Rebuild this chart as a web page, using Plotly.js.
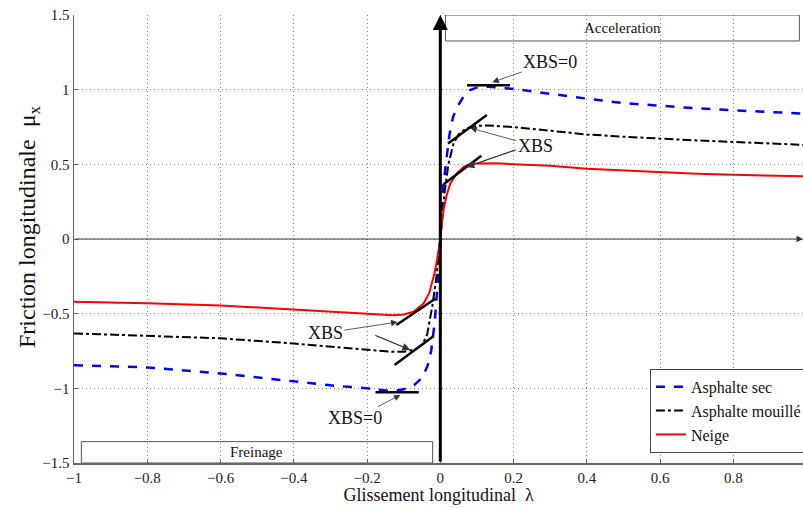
<!DOCTYPE html>
<html>
<head>
<meta charset="utf-8">
<script src="https://cdn.plot.ly/plotly-3.0.1.min.js"></script>
<style>html,body{margin:0;padding:0;background:#fff}#chart{width:803px;height:508px}</style>
</head>
<body>
<div id="chart"></div>
<script>
// ---- data ----
const seriesNames = ['Asphalte sec', 'Asphalte mouillé', 'Neige'];

const xSec = [-1, -0.8, -0.6, -0.4, -0.3, -0.2, -0.15, -0.12, -0.09, -0.07, -0.05, -0.035, -0.025, -0.015, -0.008, -0.003, 0, 0.003, 0.008, 0.015, 0.025, 0.035, 0.05, 0.065, 0.08, 0.1, 0.13, 0.2, 0.3, 0.4, 0.5, 0.6, 0.7, 0.8, 0.9, 0.99];
const ySec = [-0.845, -0.86, -0.9, -0.955, -0.98, -1.0, -1.015, -1.015, -1.0, -0.975, -0.93, -0.85, -0.75, -0.55, -0.35, -0.15, 0, 0.15, 0.35, 0.5, 0.7, 0.82, 0.9, 0.96, 0.995, 1.015, 1.02, 1.005, 0.97, 0.94, 0.91, 0.89, 0.875, 0.862, 0.85, 0.84];

const xMouille = [-1, -0.8, -0.6, -0.4, -0.3, -0.2, -0.13, -0.1, -0.07, -0.05, -0.036, -0.022, -0.012, -0.005, 0, 0.005, 0.012, 0.022, 0.036, 0.05, 0.07, 0.1, 0.13, 0.2, 0.3, 0.4, 0.5, 0.6, 0.7, 0.8, 0.9, 0.99];
const yMouille = [-0.632, -0.648, -0.665, -0.7, -0.72, -0.743, -0.755, -0.755, -0.74, -0.71, -0.64, -0.45, -0.28, -0.12, 0, 0.15, 0.32, 0.5, 0.64, 0.7, 0.74, 0.758, 0.76, 0.75, 0.725, 0.7, 0.685, 0.67, 0.66, 0.65, 0.64, 0.63];

const xNeige = [-1, -0.8, -0.6, -0.4, -0.3, -0.2, -0.13, -0.1, -0.073, -0.045, -0.03, -0.023, -0.015, -0.009, -0.004, 0, 0.004, 0.009, 0.018, 0.027, 0.045, 0.065, 0.082, 0.1, 0.15, 0.2, 0.3, 0.4, 0.5, 0.6, 0.7, 0.8, 0.9, 0.99];
const yNeige = [-0.42, -0.43, -0.445, -0.475, -0.49, -0.5, -0.51, -0.505, -0.487, -0.43, -0.36, -0.3, -0.22, -0.14, -0.07, 0, 0.1, 0.2, 0.3, 0.37, 0.44, 0.485, 0.5, 0.505, 0.507, 0.5, 0.49, 0.47, 0.458, 0.447, 0.437, 0.43, 0.424, 0.42];

const xTickVals = [-1, -0.8, -0.6, -0.4, -0.2, 0, 0.2, 0.4, 0.6, 0.8];
const yTickVals = [-1.5, -1, -0.5, 0, 0.5, 1, 1.5];

const xTitle = 'Glissement longitudinal  λ';
const yTitle = 'Friction longitudinale  μ<sub>x</sub>';

// XBS tangent segments: [x0, y0, x1, y1]
const tangentSegments = [
  [0.073, 1.03, 0.19, 1.03],
  [0.021, 0.64, 0.127, 0.83],
  [0.009, 0.366, 0.112, 0.558],
  [-0.12, -0.576, -0.014, -0.40],
  [-0.125, -0.844, -0.018, -0.65],
  [-0.177, -1.027, -0.059, -1.027]
];
// XBS labels with arrow: [text, textX, textY, headX, headY]
const xbsLabels = [
  ['XBS=0', 0.30, 1.185, 0.142, 1.05],
  ['XBS', 0.259, 0.623, 0.082, 0.743],
  ['XBS', -0.314, -0.63, -0.117, -0.556],
  ['XBS=0', -0.232, -1.2, -0.109, -1.045]
];
// Extra pointer arrows without text: [tailX, tailY, headX, headY]
const extraPointers = [
  [0.207, 0.598, 0.071, 0.482],
  [-0.178, -0.645, -0.082, -0.743]
];
// Region boxes: [text, x0, y0, x1, y1]
const regionBoxes = [
  ['Freinage', -0.98, -1.5, -0.021, -1.357],
  ['Acceleration', 0.014, 1.326, 0.98, 1.5]
];

const serif = 'Liberation Serif';

const traces = [
  {x: xSec, y: ySec, name: seriesNames[0], mode: 'lines', line: {color: '#0000ff', width: 2.5, dash: 'dash'}},
  {x: xMouille, y: yMouille, name: seriesNames[1], mode: 'lines', line: {color: '#000000', width: 2, dash: 'dashdot'}},
  {x: xNeige, y: yNeige, name: seriesNames[2], mode: 'lines', line: {color: '#ff0000', width: 2}}
];

const shapes = [];
tangentSegments.forEach(s => shapes.push({type: 'line', xref: 'x', yref: 'y', x0: s[0], y0: s[1], x1: s[2], y1: s[3], line: {color: '#000', width: 2.5}}));
regionBoxes.forEach(b => shapes.push({type: 'rect', xref: 'x', yref: 'y', x0: b[1], y0: b[2], x1: b[3], y1: b[4], line: {color: '#555', width: 1}, fillcolor: 'rgba(0,0,0,0)'}));
extraPointers.forEach(p => shapes.push({type: 'line', xref: 'x', yref: 'y', x0: p[0], y0: p[1], x1: p[2], y1: p[3], line: {color: '#555', width: 1}}));

const annotations = [];
// zero line with arrow to the right
annotations.push({x: 0.99, y: 0, ax: -1, ay: 0, xref: 'x', yref: 'y', axref: 'x', ayref: 'y', text: '', showarrow: true, arrowhead: 2, arrowsize: 1.3, arrowwidth: 1, arrowcolor: '#333'});
// thick vertical line at x=0 with arrow upward
annotations.push({x: 0, y: 1.5, ax: 0, ay: -1.5, xref: 'x', yref: 'y', axref: 'x', ayref: 'y', text: '', showarrow: true, arrowhead: 2, arrowsize: 1, arrowwidth: 3, arrowcolor: '#000'});
xbsLabels.forEach(a => annotations.push({
  x: a[3], y: a[4], ax: a[1], ay: a[2], xref: 'x', yref: 'y', axref: 'x', ayref: 'y',
  text: a[0], showarrow: true, arrowhead: 2, arrowsize: 1.6, arrowwidth: 0.8, arrowcolor: '#333', standoff: 0,
  font: {family: serif, size: 18, color: '#111'}
}));
extraPointers.forEach(p => annotations.push({
  x: p[2], y: p[3], ax: p[0], ay: p[1], xref: 'x', yref: 'y', axref: 'x', ayref: 'y',
  text: '', showarrow: true, arrowhead: 2, arrowsize: 1.6, arrowwidth: 1, arrowcolor: '#333'
}));
regionBoxes.forEach(b => annotations.push({
  x: (b[1] + b[3]) / 2, y: (b[2] + b[4]) / 2, xref: 'x', yref: 'y', text: b[0], showarrow: false,
  font: {family: serif, size: 15, color: '#111'}
}));
// y-axis title (rotated), positioned like the reference
annotations.push({
  xref: 'paper', yref: 'paper', x: -0.061, y: 0.528, xanchor: 'center', yanchor: 'middle',
  text: yTitle, textangle: -90, showarrow: false, font: {family: serif, size: 24, color: '#111'}
});

const layout = {
  width: 803, height: 508,
  margin: {l: 74, r: 0, t: 15, b: 45, autoexpand: false},
  paper_bgcolor: '#fff', plot_bgcolor: '#fff',
  showlegend: true,
  legend: {x: 0.79, y: 0.21, xanchor: 'left', yanchor: 'top', bgcolor: '#fff', bordercolor: '#444', borderwidth: 1,
           font: {family: serif, size: 16, color: '#111'}, itemwidth: 30, tracegroupgap: 0},
  xaxis: {
    range: [-1, 0.99], tickvals: xTickVals, showgrid: true, gridcolor: '#888', griddash: '1px,3px', gridwidth: 1,
    zeroline: false, showline: true, linecolor: '#666', linewidth: 1.5, ticks: 'inside', ticklen: 4, tickcolor: '#666',
    tickfont: {family: serif, size: 15, color: '#222'},
    title: {text: xTitle, font: {family: serif, size: 18, color: '#111'}, standoff: 4}
  },
  yaxis: {
    range: [-1.5, 1.5], tickvals: yTickVals, showgrid: true, gridcolor: '#888', griddash: '1px,3px', gridwidth: 1,
    zeroline: false, showline: true, linecolor: '#666', linewidth: 1.5, ticks: 'inside', ticklen: 4, tickcolor: '#666',
    tickfont: {family: serif, size: 15, color: '#222'}
  },
  shapes: shapes,
  annotations: annotations
};

Plotly.newPlot('chart', traces, layout, {displayModeBar: false, staticPlot: true});
</script>
</body>
</html>
